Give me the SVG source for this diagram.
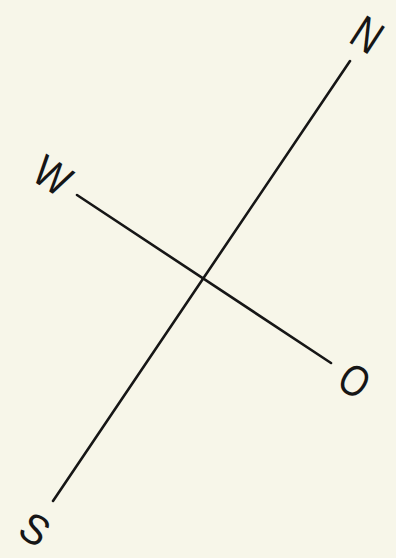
<svg xmlns="http://www.w3.org/2000/svg" width="396" height="558" viewBox="0 0 396 558">
<style>
.lbl{font-family:"Liberation Sans","DejaVu Sans",sans-serif;font-size:44px;fill:#161616;text-anchor:middle}
.ln{stroke:#161616;stroke-width:2.6;stroke-linecap:round;fill:none}
</style>
<rect width="396" height="558" fill="#f7f6e9"/>
<g id="connectors">
<line class="ln" x1="350" y1="61" x2="53" y2="501"/>
<line class="ln" x1="77" y1="195" x2="331" y2="363"/>
</g>
<g id="N"><text class="lbl" transform="translate(367,35) rotate(33) scale(0.8,1)" y="16" style="font-size:47px">N</text></g>
<g id="W"><text class="lbl" transform="translate(53,175) rotate(33) scale(0.85,1)" y="16">W</text></g>
<g id="O"><text class="lbl" transform="translate(355,380) rotate(33) scale(0.8,1)" y="16">O</text></g>
<g id="S"><text class="lbl" transform="translate(35,529) rotate(33) scale(0.95,1)" y="15" style="font-size:42px">S</text></g>
</svg>
